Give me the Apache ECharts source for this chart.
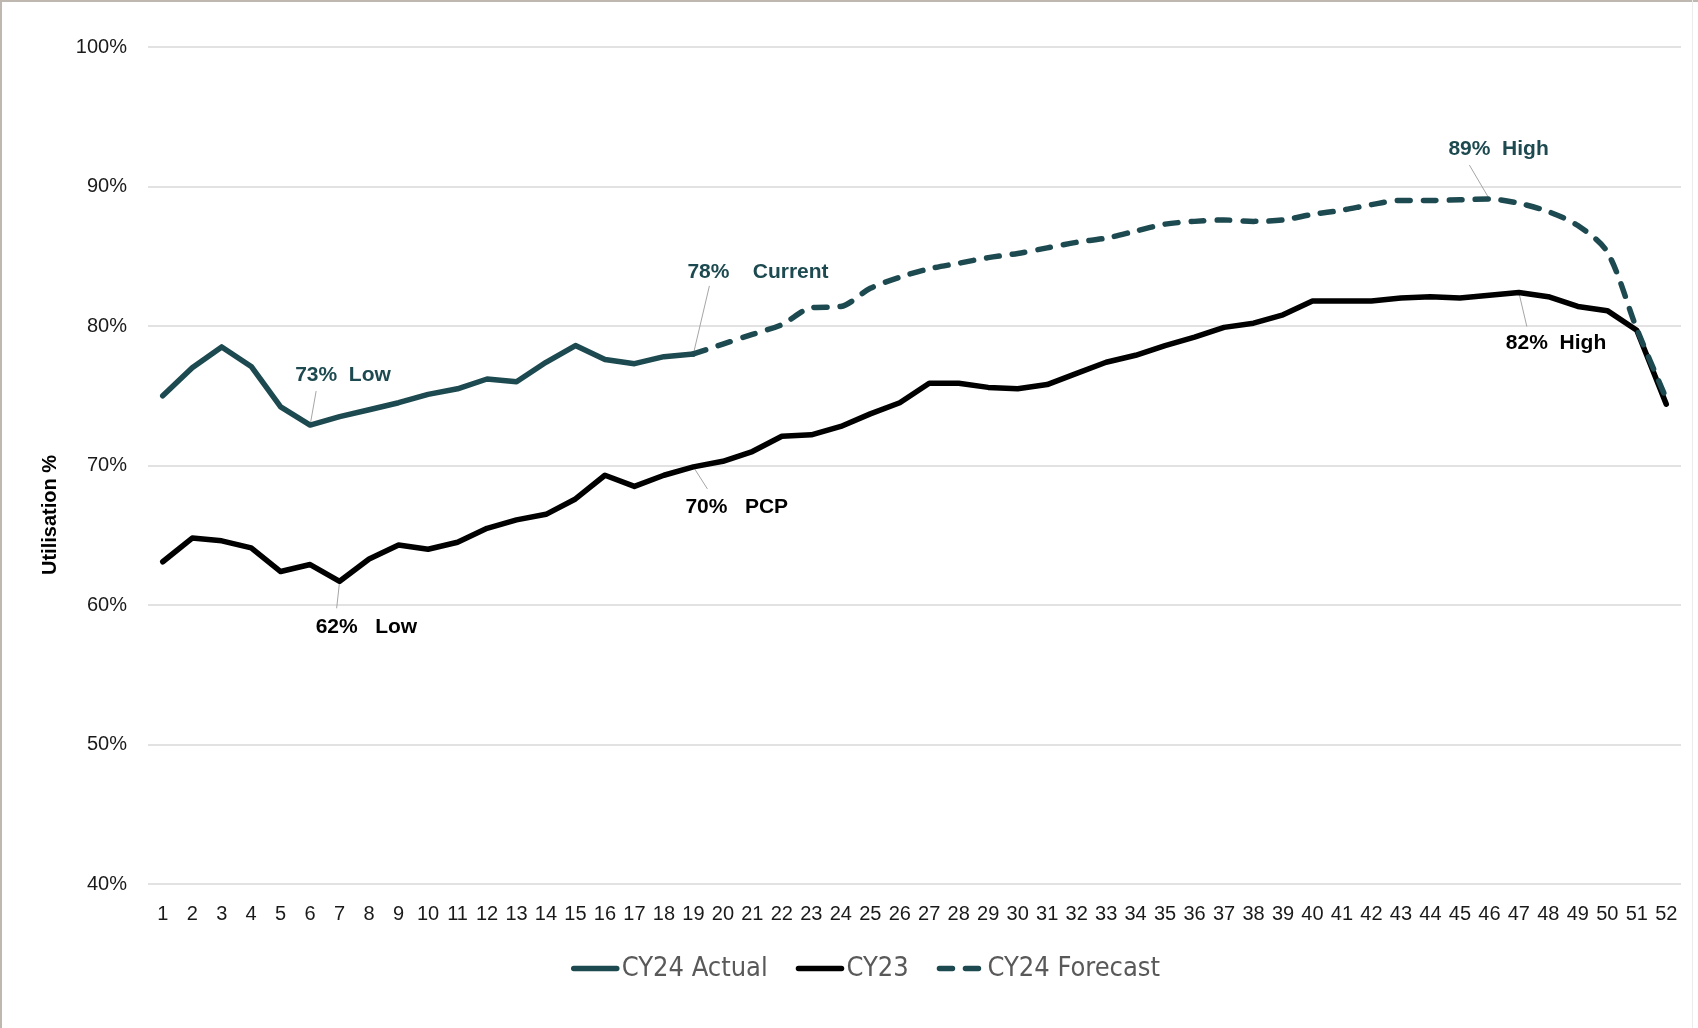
<!DOCTYPE html>
<html>
<head>
<meta charset="utf-8">
<script src="https://cdn.jsdelivr.net/npm/echarts@6/dist/echarts.min.js"></script>
<style>
  html, body { margin: 0; padding: 0; background: #fff; }
  #chart { width: 1698px; height: 1028px; }
  .edge { position: absolute; background: #bfb8b0; pointer-events: none; }
</style>
</head>
<body>
<div id="chart"></div>
<div class="edge" style="left:0;top:0;width:2px;height:1028px"></div>
<div class="edge" style="left:0;top:0;width:1698px;height:2px"></div>
<div class="edge" style="left:1692px;top:0;width:1px;height:1028px;background:#ececec"></div>
<script>
// week numbers on the x axis
const weeks = ['1','2','3','4','5','6','7','8','9','10','11','12','13','14','15','16','17','18','19','20',
  '21','22','23','24','25','26','27','28','29','30','31','32','33','34','35','36','37','38','39','40',
  '41','42','43','44','45','46','47','48','49','50','51','52'];

// utilisation %
const cy24Actual = [75.0, 77.0, 78.5, 77.1, 74.2, 72.9, 73.5, 74.0, 74.5, 75.1, 75.5, 76.2, 76.0, 77.4, 78.6,
  77.6, 77.3, 77.8, 78.0];

const cy23 = [63.1, 64.8, 64.6, 64.1, 62.4, 62.9, 61.7, 63.3, 64.3, 64.0, 64.5, 65.5, 66.1, 66.5, 67.6,
  69.3, 68.5, 69.3, 69.9, 70.3, 71.0, 72.1, 72.2, 72.8, 73.7, 74.5, 75.9, 75.9, 75.6, 75.5,
  75.8, 76.6, 77.4, 77.9, 78.6, 79.2, 79.9, 80.2, 80.8, 81.8, 81.8, 81.8, 82.0, 82.1, 82.0,
  82.2, 82.4, 82.1, 81.4, 81.1, 79.7, 74.4];

const forecastStart = 19; // forecast picks up at the current week
const cy24Forecast = [78.0, 78.7, 79.4, 80.1, 81.3, 81.4, 82.7, 83.5, 84.1, 84.5, 84.9, 85.2, 85.6, 86.0,
  86.3, 86.8, 87.3, 87.5, 87.6, 87.5, 87.6, 88.0, 88.3, 88.7, 89.0, 89.0, 89.05, 89.1, 88.8,
  88.2, 87.2, 85.3, 79.8, 74.8];

// callout labels
const notes = [
  { series: 'CY24 Actual', week: 6, text: '  Low' },
  { series: 'CY24 Actual', week: 19, text: '    Current' },
  { series: 'CY23', week: 7, text: '   Low' },
  { series: 'CY23', week: 19, text: '   PCP' },
  { series: 'CY23', week: 47, text: '  High' },
  { series: 'CY24 Forecast', week: 46, text: '  High' }
];

// where each callout sits relative to its point (px): text left/middle, leader end
const noteLayout = [
  { text: [-15, -50], lead: [6, -34] },
  { text: [-6, -82], lead: [16, -68] },
  { text: [-24, 46], lead: [-3, 27] },
  { text: [-8, 40], lead: [14, 22] },
  { text: [-13, 51], lead: [8, 34] },
  { text: [-41, -50], lead: [-20, -34] }
];

const teal = '#1d4a50';
const labelFont = '"Liberation Sans", Arial, sans-serif';
const narrowFont = '"Liberation Sans Narrow", "DejaVu Sans Condensed", "Liberation Sans", sans-serif';
const lineW = 5.5;

const seriesValues = { 'CY24 Actual': cy24Actual, 'CY23': cy23, 'CY24 Forecast': cy24Forecast };
const seriesStart = { 'CY24 Actual': 1, 'CY23': 1, 'CY24 Forecast': forecastStart };

function padWeeks(values, startWeek) {
  const out = [];
  for (let i = 0; i < weeks.length; i++) {
    const k = i - (startWeek - 1);
    out.push(k >= 0 && k < values.length ? values[k] : null);
  }
  return out;
}

const noteData = notes.map((n, i) => [n.week - 1, seriesValues[n.series][n.week - seriesStart[n.series]], i]);

function renderNote(params, api) {
  const i = api.value(2);
  const n = notes[i];
  const lay = noteLayout[i];
  const v = api.value(1);
  const pt = api.coord([api.value(0), v]);
  const color = n.series === 'CY23' ? '#000' : teal;
  return {
    type: 'group',
    children: [
      {
        type: 'line',
        shape: { x1: pt[0], y1: pt[1], x2: pt[0] + lay.lead[0], y2: pt[1] + lay.lead[1] },
        style: { stroke: '#a6a6a6', lineWidth: 1 }
      },
      {
        type: 'text',
        x: pt[0] + lay.text[0],
        y: pt[1] + lay.text[1],
        style: {
          text: Math.round(v) + '%' + n.text,
          fill: color,
          fontFamily: labelFont,
          fontWeight: 'bold',
          fontSize: 21,
          align: 'left',
          verticalAlign: 'middle'
        }
      }
    ]
  };
}

const chart = echarts.init(document.getElementById('chart'));
chart.setOption({
  animation: false,
  backgroundColor: '#fff',
  grid: { left: 148, right: 17, top: 47, bottom: 144, containLabel: false },
  legend: {
    data: ['CY24 Actual', 'CY23', 'CY24 Forecast'],
    left: 566,
    top: 950,
    itemWidth: 43,
    itemHeight: 14,
    itemGap: 28,
    itemStyle: { opacity: 0 },
    lineStyle: { width: 5.5, cap: 'round' },
    textStyle: { fontFamily: narrowFont, fontSize: 27, color: '#595959' }
  },
  xAxis: {
    type: 'category',
    data: weeks,
    boundaryGap: true,
    axisLine: { show: false },
    axisTick: { show: false },
    axisLabel: { interval: 0, fontFamily: labelFont, fontSize: 20, color: '#1a1a1a', margin: 20 }
  },
  yAxis: {
    type: 'value',
    min: 40,
    max: 100,
    interval: 10,
    axisLine: { show: false },
    axisTick: { show: false },
    axisLabel: { formatter: '{value}%', fontFamily: labelFont, fontSize: 20, color: '#1a1a1a', margin: 21 },
    splitLine: { lineStyle: { color: '#d9d9d9', width: 1.5 } }
  },
  graphic: [{
    type: 'text',
    left: 40,
    top: 455,
    rotation: Math.PI / 2,
    style: {
      text: 'Utilisation %',
      fontFamily: labelFont,
      fontWeight: 'bold',
      fontSize: 20,
      fill: '#000'
    }
  }],
  series: [
    {
      name: 'CY24 Actual',
      type: 'line',
      symbol: 'none',
      data: padWeeks(cy24Actual, 1),
      lineStyle: { color: teal, width: lineW, cap: 'round', join: 'round' },
      itemStyle: { color: teal },
      emphasis: { disabled: true },
      z: 3
    },
    {
      name: 'CY23',
      type: 'line',
      symbol: 'none',
      data: padWeeks(cy23, 1),
      lineStyle: { color: '#000', width: lineW, cap: 'round', join: 'round' },
      itemStyle: { color: '#000' },
      emphasis: { disabled: true },
      z: 2
    },
    {
      name: 'CY24 Forecast',
      type: 'line',
      symbol: 'none',
      smooth: 0.3,
      data: padWeeks(cy24Forecast, forecastStart),
      lineStyle: { color: teal, width: lineW, type: [13, 13], cap: 'round', join: 'round' },
      itemStyle: { color: teal },
      emphasis: { disabled: true },
      z: 4
    },
    {
      name: 'notes',
      type: 'custom',
      data: noteData,
      renderItem: renderNote,
      clip: false,
      silent: true,
      z: 1
    }
  ]
});
</script>
</body>
</html>
